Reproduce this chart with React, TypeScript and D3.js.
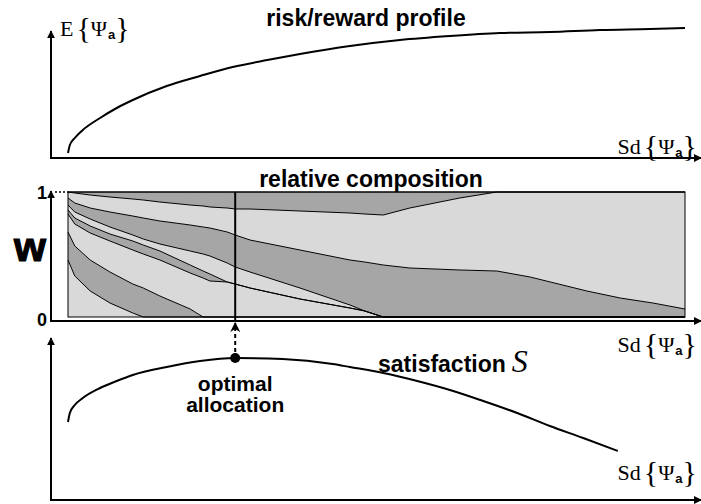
import React from 'react'
import * as d3 from 'd3'

// risk axis, arbitrary units (0 = minimum variance portfolio, 100 = riskiest)
const sdGrid = [0, 1.1, 3.6, 6.8, 10.5, 12.2, 14.9, 19.8, 21.9, 23, 25.8, 27.1, 29.5, 37.6, 45.7, 48.1, 51.1, 55.4, 63.5, 69.5, 74.9, 84.1, 89.5, 94.8, 100]

// relative weights (%) of the eight assets, first one at the bottom of the stack
const asset1 = [45.6, 32.8, 20.8, 11.2, 3.2, 0, 0, 0, 0, 0, 0, 0, 0, 0, 0, 0, 0, 0, 0, 0, 0, 0, 0, 0, 0]
const asset2 = [22.4, 24, 24.8, 24.8, 23.2, 23.2, 16.8, 6.4, 0, 0, 0, 0, 0, 0, 0, 0, 0, 0, 0, 0, 0, 0, 0, 0, 0]
const asset3 = [14.4, 17.6, 21.6, 24.8, 27.2, 27.2, 28.8, 28.8, 31.2, 28.8, 28, 26.4, 23.2, 14.4, 7.2, 4.8, 0, 0, 0, 0, 0, 0, 0, 0, 0]
const asset4 = [3.2, 4.8, 5.6, 5.6, 7.2, 7.2, 7.2, 6.4, 5.6, 5.6, 0, 0, 0, 0, 0, 0, 0, 0, 0, 0, 0, 0, 0, 0, 0]
const asset5 = [4, 4.8, 5.6, 5.6, 4.8, 4.8, 5.6, 11.2, 13.6, 14.4, 15.2, 13.6, 12.8, 8.8, 2.4, 0, 0, 0, 0, 0, 0, 0, 0, 0, 0]
const asset6 = [5.6, 7.2, 8.8, 12, 15.2, 16.8, 18.4, 20.8, 21.6, 22.4, 24.8, 25.6, 25.6, 30.4, 36, 39.2, 41.6, 39.2, 37.6, 36.8, 32, 20.8, 15.2, 11.2, 6.4]
const asset7 = [4.8, 8, 10.4, 12, 13.6, 14.4, 15.2, 16, 16.8, 16.8, 19.2, 20.8, 24.8, 31.2, 37.6, 38.4, 40, 48, 57.6, 63.2, 68, 79.2, 84.8, 88.8, 93.6]
const asset8 = [0, 0.8, 2.4, 4, 5.6, 6.4, 8, 10.4, 11.2, 12, 12.8, 13.6, 13.6, 15.2, 16.8, 17.6, 18.4, 12.8, 4.8, 0, 0, 0, 0, 0, 0]

// efficient frontier: expected value vs standard deviation
const frontierSd = [0, 0.3, 1.1, 2.4, 5.2, 7.9, 10.5, 16, 21.4, 26.7, 32.3, 37.6, 45.7, 53.8, 61.9, 70, 78.1, 86.2, 94.3, 100]
const frontierE = [0.5, 1.3, 2, 2.8, 4, 5, 5.8, 7.2, 8.2, 9.1, 9.8, 10.4, 11.2, 11.8, 12.2, 12.5, 12.6, 12.8, 12.9, 13]

// satisfaction along the frontier
const satSd = [0, 0.3, 1.1, 2.4, 5.2, 7.9, 10.5, 16, 21.4, 27.1, 34.8, 42.9, 45.7, 51.1, 56.6, 61.9, 67.3, 72.8, 78.1, 83.5, 89.1]
const satValue = [7.8, 8.7, 9.5, 10.2, 11.2, 11.9, 12.5, 13.3, 13.9, 14.2, 14.1, 13.6, 13.3, 12.7, 11.9, 11, 9.9, 8.7, 7.4, 6.2, 4.9]

const assets = [asset1, asset2, asset3, asset4, asset5, asset6, asset7, asset8]
const keys = assets.map((_, i) => 'a' + i)
const fills = ['#d9d9d9', '#a6a6a6']

const SANS = '"Liberation Sans", Arial, sans-serif'
const SERIF = '"Liberation Serif", "Times New Roman", serif'

const AXIS_X = 51
const MID_AXIS_Y = 321

const x = d3.scaleLinear().domain([0, 100]).range([68, 685])
const yTop = d3.scaleLinear().domain([0, 13]).range([158, 28])
const yMid = d3.scaleLinear().domain([0, 100]).range([317, 192])
const yBot = d3.scaleLinear().domain([0, 16]).range([500, 340])

// label like E{Ψa} or Sd{Ψa}
function MathLabel({ x, y, head, anchor }: { x: number, y: number, head: string, anchor: string }) {
  return (
    <text x={x} y={y} textAnchor={anchor} fontFamily={SERIF} fontSize={22}>
      {head}
      <tspan fontSize={30} dx={3} dy={2}>{'{'}</tspan>
      <tspan fontSize={22} dy={-2}>Ψ</tspan>
      <tspan fontFamily={SANS} fontWeight="bold" fontSize={13} dx={1} dy={3}>a</tspan>
      <tspan fontSize={30} dy={-1}>{'}'}</tspan>
    </text>
  )
}

function Axes({ top, bottom }: { top: number, bottom: number }) {
  return (
    <g stroke="#000" strokeWidth={2} fill="none">
      <line x1={AXIS_X} y1={bottom} x2={AXIS_X} y2={top} markerEnd="url(#tip)" />
      <line x1={AXIS_X - 1} y1={bottom} x2={701} y2={bottom} markerEnd="url(#tip)" />
    </g>
  )
}

function Composition() {
  const rows = sdGrid.map((sd, i) => {
    const row: any = { sd }
    keys.forEach((k, j) => { row[k] = assets[j][i] })
    return row
  })
  const series = d3.stack().keys(keys)(rows)

  const area = d3.area<any>()
    .x(d => x(d.data.sd))
    .y0(d => yMid(d[0]))
    .y1(d => yMid(d[1]))

  const edge = d3.line<any>()
    .x(d => x(d.data.sd))
    .y(d => yMid(d[1]))

  return (
    <g>
      {series.map((s, i) => (
        <path key={'f' + i} d={area(s) as string} fill={fills[i % 2]} stroke="none" />
      ))}
      {series.map((s, i) => (
        <path key={'l' + i} d={edge(s) as string} fill="none" stroke="#000" strokeWidth={1} />
      ))}
      <rect x={x(0)} y={yMid(100)} width={x(100) - x(0)} height={yMid(0) - yMid(100)}
        fill="none" stroke="#000" strokeWidth={1} />
    </g>
  )
}

export default function App() {
  const frontier = d3.line<number>()
    .curve(d3.curveMonotoneX)
    .x((_, i) => x(frontierSd[i]))
    .y(d => yTop(d))

  const satisfaction = d3.line<number>()
    .curve(d3.curveMonotoneX)
    .x((_, i) => x(satSd[i]))
    .y(d => yBot(d))

  const best = d3.maxIndex(satValue)
  const bx = x(satSd[best])
  const by = yBot(satValue[best])

  return (
    <svg width={701} height={504} style={{ position: 'absolute', left: 0, top: 0, background: '#fff' }}>
      <defs>
        <marker id="tip" viewBox="0 0 10 10" refX="9" refY="5" markerWidth="4" markerHeight="4" orient="auto">
          <path d="M0,0 L10,5 L0,10 z" fill="#000" />
        </marker>
        <marker id="chev" viewBox="0 0 10 10" refX="9" refY="5" markerWidth="5" markerHeight="5" orient="auto">
          <path d="M0,0 L10,5 L0,10 L3,5 z" fill="#000" />
        </marker>
      </defs>

      {/* risk/reward profile */}
      <text x={366} y={26} textAnchor="middle" fontFamily={SANS} fontWeight="bold" fontSize={23}>risk/reward profile</text>
      <Axes top={31} bottom={yTop(0)} />
      <path d={frontier(frontierE) as string} fill="none" stroke="#000" strokeWidth={2} />
      <MathLabel x={60} y={36} head="E" anchor="start" />
      <MathLabel x={697} y={154} head="Sd" anchor="end" />

      {/* relative composition */}
      <text x={371} y={187} textAnchor="middle" fontFamily={SANS} fontWeight="bold" fontSize={23}>relative composition</text>
      <Composition />
      <Axes top={yMid(100) - 1} bottom={MID_AXIS_Y} />
      <line x1={AXIS_X + 4} y1={yMid(100)} x2={x(0)} y2={yMid(100)} stroke="#000" strokeWidth={1.5} strokeDasharray="2,2" />
      <text x={47} y={199} textAnchor="end" fontFamily={SANS} fontWeight="bold" fontSize={18}>1</text>
      <text x={47} y={326} textAnchor="end" fontFamily={SANS} fontWeight="bold" fontSize={18}>0</text>
      <text x={14} y={261} fontFamily={SANS} fontWeight="bold" fontSize={41} stroke="#000" strokeWidth={1.2}>w</text>
      <MathLabel x={697} y={352} head="Sd" anchor="end" />

      {/* satisfaction */}
      <Axes top={338} bottom={yBot(0)} />
      <path d={satisfaction(satValue) as string} fill="none" stroke="#000" strokeWidth={2} />
      <line x1={bx} y1={yMid(100)} x2={bx} y2={MID_AXIS_Y} stroke="#000" strokeWidth={2} />
      <line x1={bx} y1={by - 6} x2={bx} y2={MID_AXIS_Y + 2} stroke="#000" strokeWidth={2}
        strokeDasharray="4,3" markerEnd="url(#chev)" />
      <circle cx={bx} cy={by} r={5} fill="#000" />
      <text x={bx} y={391} textAnchor="middle" fontFamily={SANS} fontWeight="bold" fontSize={21}>optimal</text>
      <text x={bx} y={412} textAnchor="middle" fontFamily={SANS} fontWeight="bold" fontSize={21}>allocation</text>
      <text x={378} y={372} fontFamily={SANS} fontWeight="bold" fontSize={23}>
        satisfaction
        <tspan fontFamily={SERIF} fontStyle="italic" fontWeight="normal" fontSize={32} dx={6}>S</tspan>
      </text>
      <MathLabel x={697} y={480} head="Sd" anchor="end" />
    </svg>
  )
}
